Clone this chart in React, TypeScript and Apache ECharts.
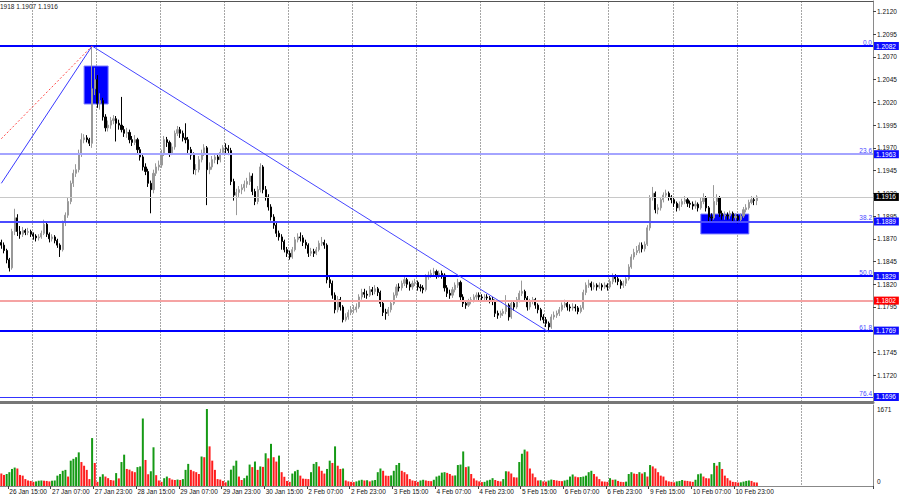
import React, { useEffect, useRef } from "react";
import * as echarts from "echarts";

// ---------- data ----------
const FIRST_OPEN = 1.1866;

const CLOSES = [
  1.1863, 1.1857, 1.1847, 1.1838, 1.1878, 1.1893, 1.1878, 1.1875, 1.1879, 1.1877, 1.1878, 1.1875,
  1.1873, 1.1871, 1.1872, 1.1876, 1.1886, 1.1875, 1.187, 1.1872, 1.1868, 1.1863, 1.1858, 1.1888,
  1.1896, 1.1911, 1.1931, 1.1942, 1.1946, 1.1964, 1.1979, 1.1981, 1.1979, 1.1975, 1.2035, 1.2045,
  1.2019, 1.2022, 1.2004, 1.1992, 1.1995, 1.2, 1.2002, 1.1997, 1.1995, 1.199, 1.1986, 1.1987,
  1.1979, 1.1976, 1.1979, 1.1968, 1.196, 1.1949, 1.1944, 1.1931, 1.1924, 1.1942, 1.1949, 1.1951,
  1.1964, 1.1979, 1.1976, 1.1964, 1.1971, 1.1986, 1.199, 1.1986, 1.1981, 1.1979, 1.1968, 1.1962,
  1.1946, 1.1946, 1.1957, 1.1964, 1.197, 1.1946, 1.1949, 1.1957, 1.196, 1.1957, 1.1965, 1.197,
  1.1969, 1.1967, 1.1933, 1.1918, 1.1921, 1.1924, 1.1926, 1.193, 1.1933, 1.1939, 1.1922, 1.1911,
  1.1924, 1.1949, 1.1924, 1.1916, 1.1905, 1.1894, 1.1885, 1.1876, 1.1872, 1.1867, 1.1858, 1.1854,
  1.185, 1.1858, 1.1869, 1.1872, 1.1871, 1.1866, 1.1863, 1.1854, 1.1856, 1.1854, 1.1858, 1.1865,
  1.1866, 1.1863, 1.1825, 1.1821, 1.1808, 1.1792, 1.1803, 1.1795, 1.1781, 1.1784, 1.1789, 1.1792,
  1.1792, 1.1795, 1.1806, 1.1811, 1.1809, 1.1808, 1.1814, 1.1812, 1.1815, 1.1811, 1.1799, 1.1789,
  1.1788, 1.1792, 1.1799, 1.1808, 1.1817, 1.1816, 1.1821, 1.1825, 1.182, 1.1817, 1.1821, 1.1822,
  1.1817, 1.1816, 1.1814, 1.1828, 1.183, 1.1832, 1.1834, 1.183, 1.1832, 1.183, 1.1816, 1.181,
  1.1808, 1.1814, 1.1819, 1.1822, 1.1806, 1.1799, 1.1797, 1.1801, 1.1803, 1.1806, 1.1808, 1.1806,
  1.1805, 1.1806, 1.1805, 1.1803, 1.1801, 1.1788, 1.1786, 1.1788, 1.179, 1.1797, 1.1784, 1.1799,
  1.1795, 1.1803, 1.181, 1.1812, 1.1805, 1.1795, 1.1801, 1.1803, 1.1797, 1.1792, 1.1784, 1.1781,
  1.1777, 1.1773, 1.1784, 1.1786, 1.1788, 1.1792, 1.1797, 1.1799, 1.1795, 1.1794, 1.1795, 1.1794,
  1.179, 1.1794, 1.1811, 1.1819, 1.1821, 1.1817, 1.1819, 1.1817, 1.1819, 1.1817, 1.1819, 1.1817,
  1.1823, 1.1828, 1.1826, 1.1823, 1.1819, 1.1821, 1.1826, 1.1839, 1.185, 1.1855, 1.1857, 1.1863,
  1.1859, 1.1864, 1.1882, 1.1915, 1.192, 1.1902, 1.1904, 1.1913, 1.1918, 1.192, 1.1916, 1.1913,
  1.1909, 1.1904, 1.1908, 1.1911, 1.1913, 1.1909, 1.1908, 1.1906, 1.1908, 1.1904, 1.1911, 1.1915,
  1.1904, 1.1894, 1.1893, 1.1911, 1.1915, 1.1898, 1.1895, 1.1896, 1.1895, 1.1898, 1.1893, 1.1895,
  1.1891, 1.1895, 1.1902, 1.1904, 1.191, 1.1913, 1.1912, 1.1916,
];

const HIGHS = [
  1.1869, 1.1866, 1.1859, 1.1849, 1.1881, 1.1903, 1.1897, 1.1884, 1.1883, 1.1881, 1.1882, 1.188,
  1.1877, 1.1875, 1.1875, 1.1879, 1.1891, 1.1888, 1.1877, 1.1875, 1.1874, 1.187, 1.1865, 1.189,
  1.1899, 1.1915, 1.1934, 1.1946, 1.1952, 1.1968, 1.1986, 1.1985, 1.1984, 1.1981, 1.2082, 1.2058,
  1.205, 1.203, 1.2025, 1.2007, 1.2, 1.2004, 1.2006, 1.2005, 1.2001, 1.2026, 1.1994, 1.1992,
  1.199, 1.1983, 1.1984, 1.1981, 1.1971, 1.1963, 1.1953, 1.1947, 1.1934, 1.1946, 1.1953, 1.1956,
  1.1968, 1.1983, 1.1982, 1.1978, 1.1975, 1.1989, 1.1994, 1.1993, 1.1989, 1.1997, 1.1982, 1.1971,
  1.1965, 1.1952, 1.1961, 1.1968, 1.1974, 1.1972, 1.1954, 1.1961, 1.1964, 1.1963, 1.1969, 1.1973,
  1.1975, 1.1973, 1.197, 1.1936, 1.1925, 1.1928, 1.193, 1.1934, 1.1937, 1.1943, 1.1942, 1.1925,
  1.1928, 1.1953, 1.1951, 1.1928, 1.1919, 1.1908, 1.1897, 1.1888, 1.1879, 1.1875, 1.1869, 1.1861,
  1.1857, 1.1861, 1.1872, 1.1876, 1.1877, 1.1874, 1.1869, 1.1865, 1.186, 1.1859, 1.1861, 1.1868,
  1.1872, 1.1869, 1.1865, 1.1829, 1.1824, 1.1811, 1.1807, 1.1806, 1.1797, 1.1788, 1.1792, 1.1796,
  1.1797, 1.1799, 1.1809, 1.1815, 1.1815, 1.1813, 1.1818, 1.1817, 1.1819, 1.1817, 1.1813, 1.1801,
  1.1793, 1.1795, 1.1802, 1.1811, 1.182, 1.1821, 1.1824, 1.1828, 1.1827, 1.1823, 1.1824, 1.1826,
  1.1824, 1.182, 1.1819, 1.1831, 1.1834, 1.1836, 1.1838, 1.1836, 1.1835, 1.1835, 1.1832, 1.1819,
  1.1814, 1.1817, 1.1822, 1.1826, 1.1824, 1.1809, 1.1802, 1.1804, 1.1806, 1.1809, 1.1811, 1.1811,
  1.1809, 1.1809, 1.1809, 1.1807, 1.1806, 1.1803, 1.1791, 1.1791, 1.1793, 1.1808, 1.1799, 1.1802,
  1.1802, 1.1806, 1.1813, 1.1824, 1.1814, 1.1807, 1.1804, 1.1806, 1.1805, 1.1799, 1.1794, 1.1787,
  1.1784, 1.1779, 1.1787, 1.179, 1.1791, 1.1795, 1.18, 1.1803, 1.1801, 1.1798, 1.1799, 1.1798,
  1.1796, 1.1797, 1.1814, 1.1822, 1.1825, 1.1823, 1.1822, 1.1821, 1.1822, 1.1821, 1.1822, 1.1821,
  1.1826, 1.1832, 1.1831, 1.1828, 1.1825, 1.1824, 1.1829, 1.1842, 1.1853, 1.1859, 1.1862, 1.1866,
  1.1866, 1.1867, 1.1885, 1.1918, 1.1927, 1.1922, 1.1908, 1.1916, 1.1921, 1.1924, 1.1922, 1.1918,
  1.1915, 1.1911, 1.1911, 1.1914, 1.1917, 1.1915, 1.1912, 1.1911, 1.1912, 1.191, 1.1915, 1.192,
  1.1917, 1.1906, 1.1898, 1.1929, 1.1919, 1.1917, 1.1901, 1.19, 1.1899, 1.1901, 1.19, 1.1898,
  1.1897, 1.1898, 1.1905, 1.1908, 1.1913, 1.1917, 1.1916, 1.1918,
];

const LOWS = [
  1.1859, 1.1854, 1.1843, 1.1834, 1.1836, 1.1874, 1.1873, 1.187, 1.1872, 1.1874, 1.1874, 1.1872,
  1.1869, 1.1867, 1.1868, 1.187, 1.1874, 1.1872, 1.1866, 1.1867, 1.1865, 1.186, 1.185, 1.1856,
  1.1884, 1.1893, 1.1908, 1.1927, 1.1938, 1.1943, 1.196, 1.1975, 1.1976, 1.1972, 1.197, 1.2028,
  1.2014, 1.2012, 1.2, 1.1988, 1.1988, 1.1991, 1.1996, 1.1977, 1.199, 1.1987, 1.1982, 1.1981,
  1.1975, 1.1972, 1.1973, 1.1964, 1.1956, 1.1945, 1.194, 1.1927, 1.1898, 1.192, 1.1939, 1.1945,
  1.1948, 1.1961, 1.1971, 1.196, 1.1962, 1.1968, 1.1983, 1.1981, 1.1977, 1.1975, 1.1964, 1.1957,
  1.1941, 1.194, 1.1943, 1.1954, 1.1961, 1.1907, 1.1941, 1.1946, 1.1953, 1.1952, 1.1954, 1.1962,
  1.1964, 1.1962, 1.1929, 1.1912, 1.1896, 1.1916, 1.1919, 1.1922, 1.1926, 1.1929, 1.1918, 1.1907,
  1.1908, 1.1921, 1.192, 1.1912, 1.1901, 1.189, 1.1881, 1.1872, 1.1868, 1.1858, 1.1855, 1.185,
  1.1847, 1.1848, 1.1856, 1.1866, 1.1867, 1.1862, 1.1859, 1.185, 1.1851, 1.185, 1.1852, 1.1856,
  1.1862, 1.1859, 1.1821, 1.1816, 1.1804, 1.1788, 1.1789, 1.1791, 1.1778, 1.1779, 1.1781, 1.1786,
  1.1788, 1.1789, 1.1793, 1.1803, 1.1805, 1.1804, 1.1806, 1.1808, 1.1809, 1.1807, 1.1795, 1.1785,
  1.1781, 1.1785, 1.1789, 1.1797, 1.1805, 1.1812, 1.1813, 1.1818, 1.1816, 1.1813, 1.1814, 1.1818,
  1.1813, 1.1812, 1.181, 1.1812, 1.1825, 1.1827, 1.1829, 1.1826, 1.1827, 1.1826, 1.1812, 1.1806,
  1.1804, 1.1805, 1.1811, 1.1816, 1.1802, 1.1795, 1.1793, 1.1795, 1.1798, 1.18, 1.1803, 1.1802,
  1.1801, 1.1802, 1.1801, 1.1799, 1.1797, 1.1784, 1.1782, 1.1783, 1.1785, 1.1787, 1.178, 1.1782,
  1.1791, 1.1793, 1.18, 1.1807, 1.1801, 1.1791, 1.1792, 1.1798, 1.1793, 1.1788, 1.178, 1.1777,
  1.1773, 1.17675, 1.1771, 1.1781, 1.1783, 1.1785, 1.179, 1.1794, 1.1791, 1.179, 1.1791, 1.179,
  1.1787, 1.1788, 1.1792, 1.1808, 1.1816, 1.1813, 1.1814, 1.1813, 1.1815, 1.1813, 1.1815, 1.1813,
  1.1815, 1.182, 1.1822, 1.1819, 1.1815, 1.1816, 1.1818, 1.1824, 1.1837, 1.1847, 1.1852, 1.1854,
  1.1855, 1.1856, 1.1862, 1.1879, 1.1912, 1.1898, 1.1897, 1.1901, 1.191, 1.1915, 1.1912, 1.1909,
  1.1905, 1.19, 1.1901, 1.1905, 1.1908, 1.1905, 1.1904, 1.1902, 1.1903, 1.19, 1.1902, 1.1908,
  1.19, 1.1889, 1.1889, 1.1891, 1.1907, 1.1894, 1.1891, 1.1891, 1.1891, 1.1892, 1.1889, 1.189,
  1.1887, 1.1889, 1.1893, 1.1899, 1.1902, 1.1908, 1.1907, 1.1907,
];

const VOLUMES = [
  270, 240, 260, 300, 370, 400, 380, 240, 225, 150, 120, 110,
  90, 100, 115, 120, 115, 110, 100, 115, 120, 225, 260, 330,
  350, 205, 550, 590, 625, 730, 520, 440, 350, 150, 1040, 500,
  90, 200, 255, 205, 170, 130, 120, 280, 165, 520, 680, 370,
  355, 320, 300, 410, 425, 1465, 565, 255, 320, 840, 235, 120,
  90, 170, 205, 170, 140, 130, 140, 130, 150, 350, 480, 350,
  320, 300, 260, 640, 625, 1671, 860, 550, 350, 150, 140, 110,
  80, 120, 355, 440, 550, 205, 130, 170, 225, 465, 410, 530,
  350, 425, 415, 710, 600, 915, 625, 530, 660, 300, 200, 110,
  90, 270, 320, 350, 225, 160, 155, 150, 300, 480, 520, 425,
  330, 270, 370, 550, 500, 860, 440, 370, 380, 120, 100, 90,
  85, 100, 120, 135, 120, 125, 100, 120, 130, 300, 380, 330,
  225, 220, 230, 330, 455, 500, 330, 300, 255, 150, 120, 110,
  90, 120, 135, 120, 110, 105, 135, 205, 225, 290, 300, 285,
  260, 225, 230, 455, 465, 750, 410, 425, 260, 165, 120, 100,
  85, 90, 120, 135, 170, 130, 110, 100, 150, 320, 315, 270,
  190, 185, 520, 700, 790, 750, 380, 270, 190, 120, 125, 100,
  95, 120, 140, 130, 120, 110, 105, 120, 135, 205, 250, 205,
  190, 195, 205, 225, 300, 330, 260, 205, 150, 100, 95, 90,
  170, 135, 140, 110, 90, 85, 95, 260, 300, 270, 260, 300,
  270, 300, 205, 455, 425, 380, 300, 225, 205, 120, 100, 90,
  80, 100, 110, 130, 115, 110, 100, 90, 135, 255, 270, 205,
  170, 165, 255, 500, 440, 520, 370, 225, 170, 120, 90, 85,
  75, 80, 95, 110, 120, 110, 80, 75,
];

// time axis: hourly slots (bar 0 = 26 Jan 12:00), extra empty slots to the right edge
const TOTAL_SLOTS = 327;
const DATE_LABELS = [
  "26 Jan 15:00", "27 Jan 07:00", "27 Jan 23:00", "28 Jan 15:00", "29 Jan 07:00", "29 Jan 23:00",
  "30 Jan 15:00", "2 Feb 07:00", "2 Feb 23:00", "3 Feb 15:00", "4 Feb 07:00", "4 Feb 23:00",
  "5 Feb 15:00", "6 Feb 07:00", "6 Feb 23:00", "9 Feb 15:00", "10 Feb 07:00", "10 Feb 23:00",
];
const LABEL_FIRST_SLOT = 3;
const LABEL_STEP = 16;
const DAY_START_SLOTS = [12, 36, 60, 84, 108, 132, 156, 180, 204, 228, 252, 276, 300];

const PRICE_TICKS = [
  1.212, 1.2095, 1.207, 1.2045, 1.202, 1.1995, 1.197, 1.1945, 1.192, 1.1895, 1.187, 1.1845,
  1.182, 1.1795, 1.1745, 1.172,
];
const VOLUME_TICKS = [0, 1671];

const FIB_VALUES = [1.2082, 1.1963, 1.1889, 1.1829, 1.1769, 1.1696];
const FIB_TEXTS = ["0.0", "23.6", "38.2", "50.0", "61.8", "76.4"];
const BID_PRICE = 1.1916;
const RED_LEVEL = 1.1802;
const FIB_DIAGONAL = [[34, 1.2082], [205, 1.17675]];
const TREND_BLUE = [[0, 1.1931], [34, 1.2082]];
const TREND_RED = [[0, 1.198], [34, 1.2082]];
const BOXES = [
  [[31, 1.206], [40, 1.20182]],
  [[262, 1.18972], [280, 1.18753]],
];

const FONT = "Liberation Sans, Arial, sans-serif";

export default function App() {
  const ref = useRef<HTMLDivElement>(null);

  useEffect(() => {
    if (!ref.current) return;
    const chart = echarts.init(ref.current, undefined, { renderer: "svg" });

    const slots = Array.from({ length: TOTAL_SLOTS }, (_, i) => String(i));
    const daySet = new Set(DAY_START_SLOTS);
    const isDayStart = (i: number) => daySet.has(i);
    const isLabel = (i: number) =>
      i >= LABEL_FIRST_SLOT && (i - LABEL_FIRST_SLOT) % LABEL_STEP === 0 &&
      (i - LABEL_FIRST_SLOT) / LABEL_STEP < DATE_LABELS.length;

    const candles = CLOSES.map((c, i) => [
      i === 0 ? FIRST_OPEN : CLOSES[i - 1],
      c,
      LOWS[i],
      HIGHS[i],
    ]);

    const vols = VOLUMES.map((v, i) => ({
      value: v,
      itemStyle: { color: i > 0 && v > VOLUMES[i - 1] ? "#159a15" : "#ff1c1c" },
    }));

    const fibColors = ["#0000ff", "#a4a4ff", "#4b4bff", "#0000ff", "#0000ff", "#3434ff"];
    const fibWidths = [2, 2, 2, 2, 2, 1];

    const levelLines: any[] = FIB_VALUES.map((v, k) => ({
      yAxis: v,
      lineStyle: { color: fibColors[k], width: fibWidths[k], type: "solid" },
      label: {
        show: true,
        position: "insideEndTop",
        formatter: FIB_TEXTS[k],
        color: "#4a4aff",
        fontSize: 6.5,
        fontFamily: FONT,
        distance: [1, 0],
      },
    }));
    levelLines.push({
      yAxis: RED_LEVEL,
      lineStyle: { color: "#f5a3a3", width: 2, type: "solid" },
      label: { show: false },
    });
    levelLines.push({
      yAxis: BID_PRICE,
      lineStyle: { color: "#c8c8c8", width: 1, type: "solid" },
      label: { show: false },
    });
    levelLines.push([
      { coord: FIB_DIAGONAL[0], lineStyle: { color: "#4646ff", width: 1, type: "solid" }, label: { show: false } },
      { coord: FIB_DIAGONAL[1] },
    ]);
    levelLines.push([
      { coord: TREND_BLUE[0], lineStyle: { color: "#3a3aff", width: 1, type: "solid" }, label: { show: false } },
      { coord: TREND_BLUE[1] },
    ]);
    levelLines.push([
      { coord: TREND_RED[0], lineStyle: { color: "#ff4a4a", width: 1, type: [2, 2] }, label: { show: false } },
      { coord: TREND_RED[1] },
    ]);

    const boxLevels = [...FIB_VALUES, BID_PRICE, RED_LEVEL];
    const boxColors = [...FIB_VALUES.map(() => "#0d0dff"), "#000000", "#ff0000"];
    const priceBoxes = boxLevels.map((v, k) => ({
      yAxis: v,
      lineStyle: { color: "rgba(0,0,0,0)", width: 1, opacity: 1 },
      label: {
        show: true,
        position: "end",
        distance: 1,
        formatter: v.toFixed(4),
        color: "#ffffff",
        opacity: 1,
        backgroundColor: boxColors[k],
        fontSize: 6.5,
        fontFamily: FONT,
        padding: [1, 3, 0, 2],
      },
    }));

    const dotted = { color: "#a6a6a6", width: 1, type: [2, 1] as any };

    const option: any = {
      animation: false,
      backgroundColor: "#ffffff",
      textStyle: { fontFamily: FONT },
      title: {
        text: "1918 1.1907 1.1916",
        left: 0,
        top: 3,
        padding: 0,
        textStyle: { fontSize: 6.5, fontWeight: "normal", color: "#222", fontFamily: FONT },
      },
      grid: [
        { left: 0, right: 27, top: 1, height: 401 },
        { left: 0, right: 27, top: 405, height: 81 },
      ],
      xAxis: [
        {
          type: "category",
          gridIndex: 0,
          data: slots,
          position: "top",
          boundaryGap: true,
          axisLine: { show: true, onZero: false, lineStyle: { color: "#555555", width: 1 } },
          axisTick: { show: false },
          axisLabel: { show: false },
          splitLine: { show: true, interval: isDayStart, lineStyle: dotted },
        },
        {
          type: "category",
          gridIndex: 0,
          data: slots,
          position: "bottom",
          boundaryGap: true,
          axisLine: { show: true, onZero: false, lineStyle: { color: "#777777", width: 3 } },
          axisTick: { show: false },
          axisLabel: { show: false },
          splitLine: { show: false },
        },
        {
          type: "category",
          gridIndex: 1,
          data: slots,
          position: "bottom",
          boundaryGap: true,
          axisLine: { show: true, onZero: false, lineStyle: { color: "#888888", width: 1 } },
          axisTick: { show: true, interval: isLabel, length: 3, lineStyle: { color: "#444" } },
          axisLabel: {
            interval: isLabel,
            formatter: (_v: string, i: number) =>
              DATE_LABELS[(i - LABEL_FIRST_SLOT) / LABEL_STEP] ?? "",
            align: "left",
            fontSize: 6.5,
            color: "#111",
            margin: 2,
            fontFamily: FONT,
          },
          splitLine: { show: true, interval: isDayStart, lineStyle: dotted },
        },
      ],
      yAxis: [
        {
          type: "value",
          gridIndex: 0,
          position: "right",
          min: 1.169049,
          max: 1.2131489,
          axisLine: { show: true, lineStyle: { color: "#8a8a8a", width: 1 } },
          axisTick: { show: true, customValues: PRICE_TICKS, length: 3, lineStyle: { color: "#444" } },
          axisLabel: {
            customValues: PRICE_TICKS,
            formatter: (v: number) => v.toFixed(4),
            fontSize: 6.5,
            color: "#111",
            margin: 4,
            fontFamily: FONT,
          },
          splitLine: { show: false },
        },
        {
          type: "value",
          gridIndex: 1,
          position: "right",
          min: 0,
          max: 1758,
          axisLine: { show: true, lineStyle: { color: "#8a8a8a", width: 1 } },
          axisTick: { show: false },
          axisLabel: {
            customValues: VOLUME_TICKS,
            formatter: (v: number) => (v === 0 ? "{z|0}" : String(v)),
            rich: { z: { padding: [0, 0, 10, 0], fontSize: 6.5, color: "#111" } },
            fontSize: 6.5,
            color: "#111",
            margin: 4,
            fontFamily: FONT,
          },
          splitLine: { show: false },
        },
      ],
      series: [
        {
          type: "candlestick",
          name: "EURUSD",
          xAxisIndex: 0,
          yAxisIndex: 0,
          data: candles,
          barWidth: 1.6,
          itemStyle: {
            color: "#999999",
            color0: "#000000",
            borderColor: "#999999",
            borderColor0: "#000000",
            borderWidth: 1,
          },
          markArea: {
            silent: true,
            itemStyle: { color: "#0000ff", borderColor: "#7c7cff", borderWidth: 1 },
            label: { show: false },
            data: BOXES.map((b) => [{ coord: b[0] }, { coord: b[1] }]),
          },
          markLine: {
            silent: true,
            precision: 6,
            symbol: ["none", "none"],
            animation: false,
            data: levelLines,
          },
        },
        {
          type: "line",
          name: "levels",
          xAxisIndex: 0,
          yAxisIndex: 0,
          data: [],
          markLine: {
            silent: true,
            precision: 6,
            symbol: ["none", "none"],
            animation: false,
            z: 10,
            data: priceBoxes,
          },
        },
        {
          type: "bar",
          name: "Volumes",
          xAxisIndex: 2,
          yAxisIndex: 1,
          data: vols,
          barWidth: 2,
        },
      ],
    };

    chart.setOption(option);
    return () => chart.dispose();
  }, []);

  return (
    <div
      ref={ref}
      style={{ position: "fixed", left: 0, top: 0, width: 900, height: 500, background: "#fff" }}
    />
  );
}
